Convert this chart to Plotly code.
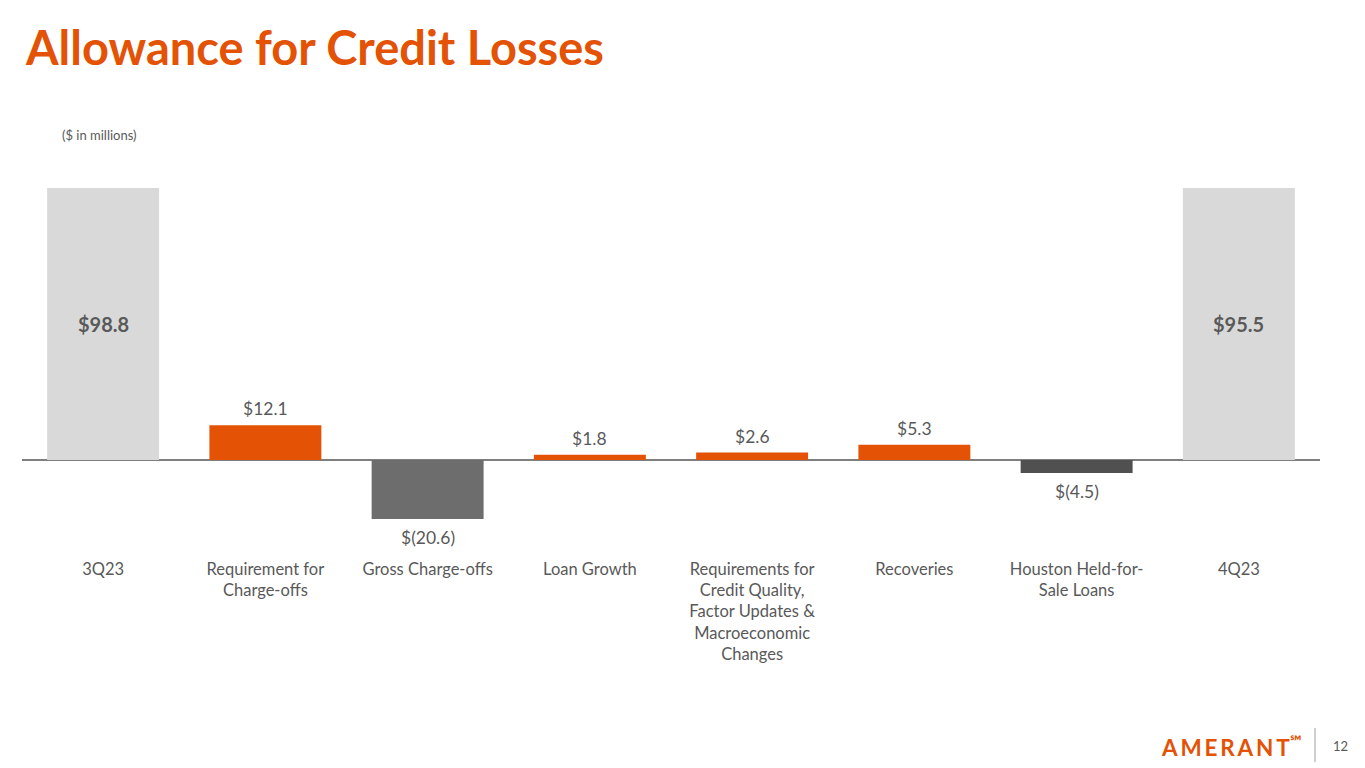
import plotly.graph_objects as go

categories = ["3Q23", "Requirement for<br>Charge-offs", "Gross Charge-offs", "Loan Growth",
              "Requirements for<br>Credit Quality,<br>Factor Updates &<br>Macroeconomic<br>Changes",
              "Recoveries", "Houston Held-for-<br>Sale Loans", "4Q23"]
values = [98.8, 12.1, -20.6, 1.8, 2.6, 5.3, -4.5, 95.5]
is_total = [True, False, False, False, False, False, False, True]
bar_colors = ["#D9D9D9", "#E35205", "#6D6D6D", "#E35205", "#E35205", "#E35205", "#505050", "#D9D9D9"]

ORANGE = "#E35205"
TEXT = "#595959"
FONT = "Lato, 'Open Sans', sans-serif"

Y_MIN, Y_MAX = -33.8, 94.8

# page offset (body margin) and plot area in screen pixels
OFF = 8
SL, SR, ST, SB = 22, 1320, 188, 557
W, H = 1365 - OFF, 768 - OFF
L, T = SL - OFF, ST - OFF
R = W - (SR - OFF)
B = H - (SB - OFF)
pw, ph = W - L - R, H - T - B


def px(x, y):
    return (x - OFF - L) / pw, (H - (y - OFF) - B) / ph


def fmt(v):
    return f"${v:.1f}" if v >= 0 else f"$({abs(v):.1f})"


fig = go.Figure()
fig.add_trace(go.Bar(
    x=categories, y=values, marker=dict(color=bar_colors, line=dict(width=0)),
    width=0.69, hoverinfo="skip", cliponaxis=True,
))

annotations = []
for c, v, tot in zip(categories, values, is_total):
    if tot:
        annotations.append(dict(x=c, y=min(v, Y_MAX) / 2, text=fmt(v), showarrow=False,
                                xref="x", yref="y",
                                font=dict(family=FONT, size=20, color=TEXT, weight="bold")))
    else:
        annotations.append(dict(x=c, y=v, text=fmt(v), showarrow=False, xref="x", yref="y",
                                yanchor="bottom" if v >= 0 else "top",
                                yshift=4 if v >= 0 else -6,
                                font=dict(family=FONT, size=17.5, color=TEXT)))


def paper_note(x, y, text, size, color, xanchor="left", weight="normal"):
    xp, yp = px(x, y)
    annotations.append(dict(x=xp, y=yp, xref="paper", yref="paper", text=text, showarrow=False,
                            xanchor=xanchor, yanchor="middle",
                            font=dict(family=FONT, size=size, color=color, weight=weight)))


paper_note(23, 47, "Allowance for Credit Losses", 47, ORANGE, weight="bold")
paper_note(60, 135, "($ in millions)", 13, TEXT)
thin = "\u2009"
paper_note(1304, 746, thin.join("AMERANT") + "<sup>℠</sup>", 22.5, ORANGE, xanchor="right", weight="bold")
paper_note(1340, 746, "12", 13, TEXT, xanchor="center")

x0, y0 = px(1315, 762)
x1, y1 = px(1315, 728)
shapes = [dict(type="line", xref="paper", yref="paper", x0=x0, x1=x1, y0=y0, y1=y1,
               line=dict(color="#BFBFBF", width=1.5))]

fig.update_layout(
    width=W, height=H, autosize=False,
    margin=dict(l=L, r=R, t=T, b=B),
    paper_bgcolor="white", plot_bgcolor="white",
    showlegend=False, bargap=0.31,
    annotations=annotations, shapes=shapes,
    font=dict(family=FONT, color=TEXT),
    xaxis=dict(showgrid=False, showline=False, ticks="", tickangle=0,
               tickfont=dict(family=FONT, size=16.5, color=TEXT), fixedrange=True),
    yaxis=dict(range=[Y_MIN, Y_MAX], showgrid=False, showticklabels=False, ticks="",
               zeroline=True, zerolinecolor="#7F7F7F", zerolinewidth=1.5, showline=False,
               fixedrange=True),
)

fig.write_html("out.html", config={"displayModeBar": False})
